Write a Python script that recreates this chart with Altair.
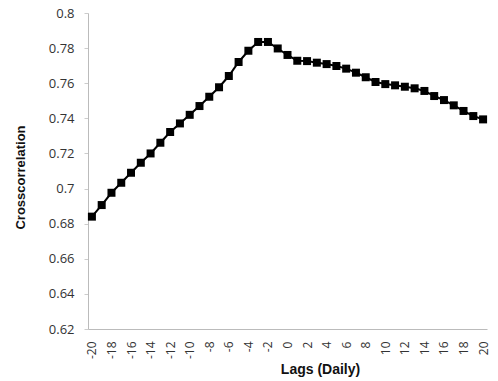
import altair as alt
import pandas as pd

lags = list(range(-20, 21))
crosscorr = [0.684, 0.6906, 0.6976, 0.7033, 0.709, 0.7147, 0.720, 0.7261, 0.7322, 0.7371,
             0.742, 0.747, 0.7523, 0.7577, 0.7641, 0.7721, 0.7785, 0.7835, 0.7835, 0.7798,
             0.7761, 0.7728, 0.7726, 0.7717, 0.7709, 0.7698, 0.7683, 0.766, 0.7634, 0.7607,
             0.7595, 0.7588, 0.758, 0.7571, 0.7556, 0.7527, 0.7504, 0.7474, 0.7442, 0.7413,
             0.7394]
x_ticks = list(range(-20, 21, 2))
y_ticks = [0.62, 0.64, 0.66, 0.68, 0.70, 0.72, 0.74, 0.76, 0.78, 0.80]

df = pd.DataFrame({"lag": lags, "cc": crosscorr})

x = alt.X("lag:Q", scale=alt.Scale(domain=[-20.4, 20.4], nice=False, zero=False),
          axis=alt.Axis(values=x_ticks, title="Lags (Daily)", labelAngle=270,
                        labelExpr="'' + datum.value",
                        labelAlign="right", labelBaseline="middle", labelPadding=12,
                        ticks=False, grid=False, domainColor="#bbbbbb",
                        labelFont="Open Sans", labelFontSize=12, labelColor="#333333",
                        titleFont="Liberation Sans", titleFontSize=14, titleFontWeight="bold",
                        titleColor="#111111", titleX=232, titleY=40, titleBaseline="middle",
                        labelFlush=False, labelOverlap=False))
y = alt.Y("cc:Q", scale=alt.Scale(domain=[0.62, 0.8], nice=False, zero=False),
          axis=alt.Axis(values=y_ticks, title="Crosscorrelation", format=".2~f",
                        tickSize=4, tickColor="#cccccc", domainColor="#bbbbbb", grid=False,
                        labelPadding=10, labelFont="Open Sans", labelFontSize=13,
                        labelColor="#333333", titleFont="Liberation Sans", titleFontSize=13,
                        titleFontWeight="bold", titleColor="#111111", titleX=-68,
                        titleY=164, titleAngle=270, titleBaseline="middle",
                        labelFlush=False, labelOverlap=False))

base = alt.Chart(df)
line = base.mark_line(color="black", strokeWidth=2).encode(x=x, y=y)
pts = base.mark_square(color="black", size=64, opacity=1).encode(x=x, y=y)

chart = (line + pts).properties(
    width=399, height=316,
    autosize=alt.AutoSizeParams(type="none"),
    padding={"left": 88, "top": 13, "right": 11, "bottom": 52},
    background="white",
).configure_view(stroke=None)

chart.save("out.html", embed_options={"renderer": "svg", "actions": False})
